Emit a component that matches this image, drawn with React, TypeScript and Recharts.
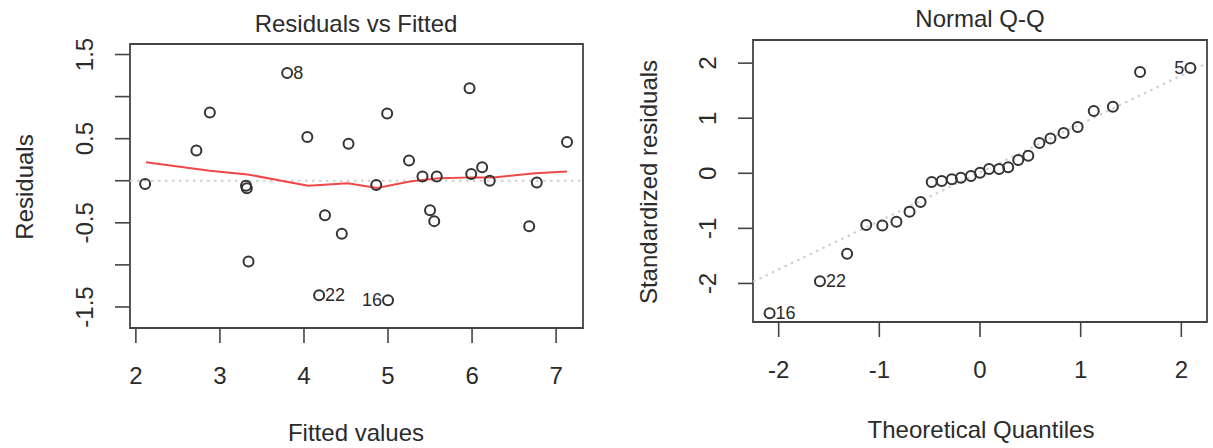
import {
  ScatterChart,
  Scatter,
  XAxis,
  YAxis,
  ReferenceArea,
  ReferenceLine,
} from "recharts";

// ── Residuals vs Fitted ────────────────────────────────────────────────────
const fitted = [
  2.11, 2.72, 2.88, 3.31, 3.32, 3.34, 3.80, 4.04, 4.25, 4.18, 4.45, 4.53, 4.86,
  4.99, 5.00, 5.25, 5.41, 5.50, 5.55, 5.58, 5.97, 5.99, 6.12, 6.21, 6.68, 6.77, 7.13,
];
const residuals = [
  -0.04, 0.36, 0.81, -0.06, -0.09, -0.96, 1.28, 0.52, -0.41, -1.36, -0.63, 0.44, -0.05,
  0.80, -1.42, 0.24, 0.05, -0.35, -0.48, 0.05, 1.10, 0.08, 0.16, 0.0, -0.54, -0.02, 0.46,
];
const residualIds = [
  "", "", "", "", "", "", "8", "", "", "22", "", "", "",
  "", "16", "", "", "", "", "", "", "", "", "", "", "", "",
];
const smoothX = [2.12, 2.88, 3.33, 4.05, 4.52, 4.87, 5.26, 5.6, 6.0, 6.25, 6.75, 7.13];
const smoothY = [0.22, 0.12, 0.075, -0.06, -0.03, -0.085, -0.01, 0.03, 0.04, 0.04, 0.09, 0.11];
const fittedTicks = [2, 3, 4, 5, 6, 7];
const fittedTickLabels = ["2", "3", "4", "5", "6", "7"];
const residualTicks = [-1.5, -1, -0.5, 0, 0.5, 1, 1.5];
const residualTickLabels = ["-1.5", "", "-0.5", "", "0.5", "", "1.5"];

// ── Normal Q-Q ─────────────────────────────────────────────────────────────
const theoretical = [
  -2.09, -1.59, -1.32, -1.13, -0.97, -0.83, -0.70, -0.59, -0.48, -0.38, -0.28, -0.19, -0.09,
  0.0, 0.09, 0.19, 0.28, 0.38, 0.48, 0.59, 0.70, 0.83, 0.97, 1.13, 1.32, 1.59, 2.09,
];
const standardized = [
  -2.54, -1.96, -1.46, -0.94, -0.95, -0.88, -0.70, -0.52, -0.16, -0.14, -0.11, -0.08, -0.05,
  0.01, 0.08, 0.08, 0.11, 0.24, 0.32, 0.55, 0.63, 0.73, 0.84, 1.13, 1.21, 1.84, 1.91,
];
const qqIds = [
  "16", "22", "", "", "", "", "", "", "", "", "", "", "",
  "", "", "", "", "", "", "", "", "", "", "", "", "", "5",
];
const qqLineX = [-2.255, 2.255];
const qqLineY = [-1.97, 2.0];
const quantileTicks = [-2, -1, 0, 1, 2];
const quantileTickLabels = ["-2", "-1", "0", "1", "2"];
const stdTicks = [-2, -1, 0, 1, 2];
const stdTickLabels = ["-2", "-1", "0", "1", "2"];

// label placement (left/right of the point) for flagged observations
const rvfLabelSide: Record<string, "left" | "right"> = { "8": "right", "22": "right", "16": "left" };
const qqLabelSide: Record<string, "left" | "right"> = { "16": "right", "22": "right", "5": "left" };

const FONT = '"Liberation Sans", Arial, Helvetica, sans-serif';
const INK = "#2b2b2b";
const FRAME = "#444";

const zip = (xs: number[], ys: number[], ids?: string[]) =>
  xs.map((x, i) => ({ x, y: ys[i], id: ids ? ids[i] : "" }));

const rvfPoints = zip(fitted, residuals, residualIds);
const rvfSmooth = zip(smoothX, smoothY);
const qqPoints = zip(theoretical, standardized, qqIds);
const qqLine = zip(qqLineX, qqLineY);

function makeDot(sides: Record<string, "left" | "right">) {
  return (props: any) => {
    const { cx, cy, payload } = props;
    const side = payload.id ? sides[payload.id] : undefined;
    return (
      <g>
        <circle cx={cx} cy={cy} r={5} fill="none" stroke="#333" strokeWidth={2} />
        {side && (
          <text
            x={side === "right" ? cx + 6 : cx - 6}
            y={cy}
            textAnchor={side === "right" ? "start" : "end"}
            dominantBaseline="central"
            fontFamily={FONT}
            fontSize={18}
            fill={INK}
          >
            {payload.id}
          </text>
        )}
      </g>
    );
  };
}

function makeXTick(values: number[], labels: string[]) {
  return (props: any) => {
    const { x, y, payload } = props;
    const i = values.indexOf(payload.value);
    return (
      <text x={x} y={y + 32} textAnchor="middle" dominantBaseline="central" fontFamily={FONT} fontSize={24} fill={INK}>
        {labels[i]}
      </text>
    );
  };
}

function makeYTick(values: number[], labels: string[]) {
  return (props: any) => {
    const { x, y, payload } = props;
    const i = values.indexOf(payload.value);
    if (!labels[i]) return <g />;
    const tx = x - 30;
    return (
      <text
        x={tx}
        y={y}
        transform={`rotate(-90 ${tx} ${y})`}
        textAnchor="middle"
        dominantBaseline="central"
        fontFamily={FONT}
        fontSize={24}
        fill={INK}
      >
        {labels[i]}
      </text>
    );
  };
}

const noShape = () => <g />;

const textStyle = {
  position: "absolute" as const,
  fontFamily: FONT,
  fontSize: 24,
  color: INK,
  whiteSpace: "nowrap" as const,
  lineHeight: 1,
};

export default function App() {
  const rvfX: [number, number] = [1.93, 7.32];
  const rvfY: [number, number] = [-1.75, 1.625];
  const qqX: [number, number] = [-2.255, 2.255];
  const qqY: [number, number] = [-2.7, 2.42];

  return (
    <div style={{ position: "absolute", left: 0, top: 0, width: 1213, height: 448, background: "#fff", overflow: "hidden" }}>
      {/* ── Left panel ── */}
      <div style={{ position: "absolute", left: 0, top: 0 }}>
        <ScatterChart width={600} height={448} margin={{ top: 44, right: 17, bottom: 60, left: 0 }}>
          <XAxis
            type="number"
            dataKey="x"
            domain={rvfX}
            ticks={fittedTicks}
            interval={0}
            allowDataOverflow
            height={60}
            axisLine={false}
            tickSize={15}
            tickMargin={0}
            tickLine={{ stroke: FRAME, strokeWidth: 1.6 }}
            tick={makeXTick(fittedTicks, fittedTickLabels)}
          />
          <YAxis
            type="number"
            dataKey="y"
            domain={rvfY}
            ticks={residualTicks}
            interval={0}
            allowDataOverflow
            width={130}
            axisLine={false}
            tickSize={15}
            tickMargin={0}
            tickLine={{ stroke: FRAME, strokeWidth: 1.6 }}
            tick={makeYTick(residualTicks, residualTickLabels)}
          />
          <ReferenceArea x1={rvfX[0]} x2={rvfX[1]} y1={rvfY[0]} y2={rvfY[1]} fill="none" stroke={FRAME} strokeWidth={1.8} />
          <ReferenceLine y={0} stroke="#cfcfcf" strokeWidth={2.2} strokeDasharray="2.5 4.5" />
          <Scatter
            data={rvfSmooth}
            shape={noShape}
            line={{ stroke: "#f04848", strokeWidth: 2 }}
            lineType="joint"
            isAnimationActive={false}
          />
          <Scatter data={rvfPoints} shape={makeDot(rvfLabelSide)} isAnimationActive={false} />
        </ScatterChart>
      </div>

      {/* ── Right panel ── */}
      <div style={{ position: "absolute", left: 600, top: 0 }}>
        <ScatterChart width={613} height={448} margin={{ top: 40, right: 6, bottom: 66, left: 0 }}>
          <XAxis
            type="number"
            dataKey="x"
            domain={qqX}
            ticks={quantileTicks}
            interval={0}
            allowDataOverflow
            height={60}
            axisLine={false}
            tickSize={15}
            tickMargin={0}
            tickLine={{ stroke: FRAME, strokeWidth: 1.6 }}
            tick={makeXTick(quantileTicks, quantileTickLabels)}
          />
          <YAxis
            type="number"
            dataKey="y"
            domain={qqY}
            ticks={stdTicks}
            interval={0}
            allowDataOverflow
            width={153}
            axisLine={false}
            tickSize={15}
            tickMargin={0}
            tickLine={{ stroke: FRAME, strokeWidth: 1.6 }}
            tick={makeYTick(stdTicks, stdTickLabels)}
          />
          <ReferenceArea x1={qqX[0]} x2={qqX[1]} y1={qqY[0]} y2={qqY[1]} fill="none" stroke={FRAME} strokeWidth={1.8} />
          <Scatter
            data={qqLine}
            shape={noShape}
            line={{ stroke: "#cfcfcf", strokeWidth: 2.2, strokeDasharray: "2.5 4.5" }}
            lineType="joint"
            isAnimationActive={false}
          />
          <Scatter data={qqPoints} shape={makeDot(qqLabelSide)} isAnimationActive={false} />
        </ScatterChart>
      </div>

      {/* ── Titles ── */}
      <div style={{ ...textStyle, left: 356, top: 24, transform: "translate(-50%, -50%)" }}>Residuals vs Fitted</div>
      <div style={{ ...textStyle, left: 356, top: 433, transform: "translate(-50%, -50%)" }}>Fitted values</div>
      <div style={{ ...textStyle, left: 25, top: 187, transform: "translate(-50%, -50%) rotate(-90deg)" }}>Residuals</div>

      <div style={{ ...textStyle, left: 980, top: 19, transform: "translate(-50%, -50%)" }}>Normal Q-Q</div>
      <div style={{ ...textStyle, left: 981, top: 430, transform: "translate(-50%, -50%)" }}>Theoretical Quantiles</div>
      <div style={{ ...textStyle, left: 649, top: 182, transform: "translate(-50%, -50%) rotate(-90deg)" }}>Standardized residuals</div>
    </div>
  );
}
